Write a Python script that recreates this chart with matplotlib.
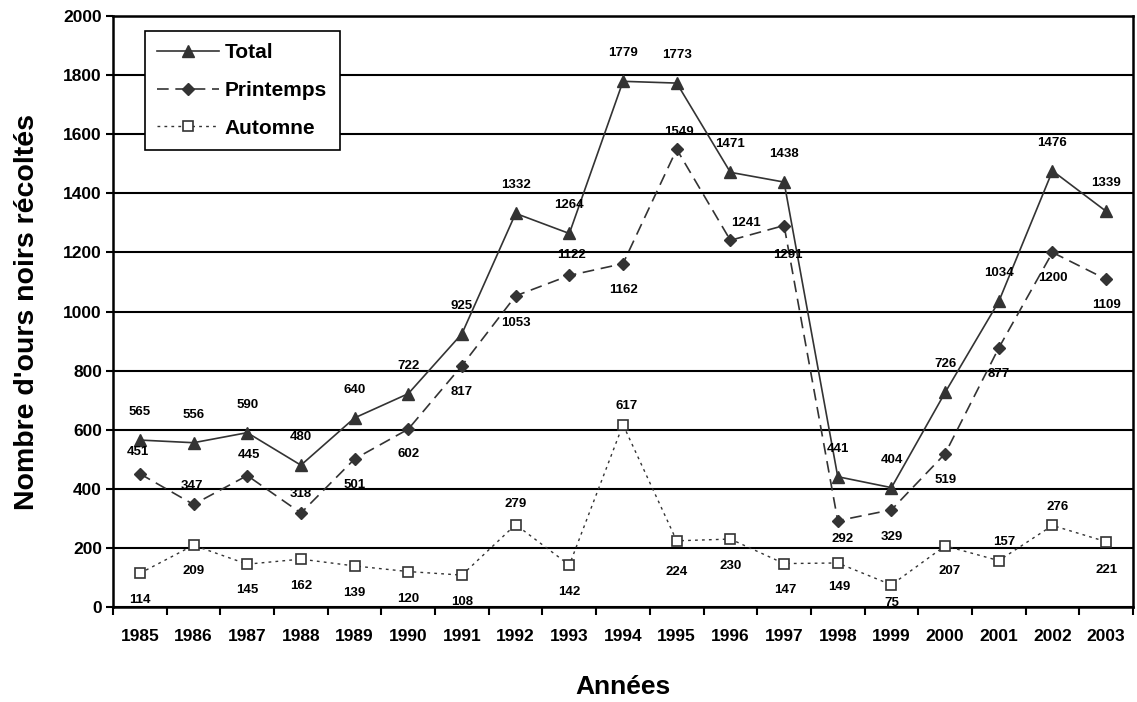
import numpy as np
import matplotlib
matplotlib.use("Agg")
import matplotlib.pyplot as plt

plt.rcParams['font.family'] = ['Liberation Sans', 'DejaVu Sans']
plt.rcParams['font.weight'] = 'bold'

# Données
annees = [str(a) for a in range(1985, 2004)]
total = [565, 556, 590, 480, 640, 722, 925, 1332, 1264, 1779,
         1773, 1471, 1438, 441, 404, 726, 1034, 1476, 1339]
printemps = [451, 347, 445, 318, 501, 602, 817, 1053, 1122, 1162,
             1549, 1241, 1291, 292, 329, 519, 877, 1200, 1109]
automne = [114, 209, 145, 162, 139, 120, 108, 279, 142, 617,
           224, 230, 147, 149, 75, 207, 157, 276, 221]

# Décalages des étiquettes (pixels, y vers le bas)
dy_total = [-28] * 19
dx_total = [0] * 19
dy_print = [-22, -18, -21, -19, 26, 25, 26, 27, -20, 26,
            -17, -17, 29, 18, 27, 26, 26, 26, 26]
dx_print = [-2, -2, 2, 0, 0, 0, 0, 0, 2, 0, 2, 16, 4, 5, 0, 0, 0, 0, 0]
dy_aut = [27, 26, 26, 27, 27, 27, 27, -21, 27, -19,
          31, 27, 26, 24, 18, 25, -19, -18, 28]
dx_aut = [0, 0, 0, 0, 0, 0, 0, 0, 0, 4, 0, 0, 1, 1, 0, 4, 5, 5, 0]

dpi = 100
fig = plt.figure(figsize=(11.37, 7.02), dpi=dpi)
ax = fig.add_axes([0.0994, 0.1353, 0.8971, 0.8419])

x = np.arange(len(annees))
couleur = "#333333"

ax.plot(x, total, color=couleur, linewidth=1.2, marker="^",
        markersize=9, label="Total", zorder=4)
ax.plot(x, printemps, color=couleur, linewidth=1.2, dashes=(7, 4),
        marker="D", markersize=6.5, label="Printemps", zorder=4)
ax.plot(x, automne, color=couleur, linewidth=1.0, dashes=(2, 3),
        marker="s", markersize=7, markerfacecolor="white",
        markeredgecolor=couleur, markeredgewidth=1.2,
        label="Automne", zorder=4)

px = 72.0 / dpi


def etiquettes(valeurs, dxs, dys):
    for i, v in enumerate(valeurs):
        ax.annotate(f"{v}", (x[i], v),
                    xytext=(dxs[i] * px, -dys[i] * px),
                    textcoords="offset points",
                    ha="center", va="center",
                    fontsize=9.5, fontweight="bold", color="black",
                    zorder=5)


etiquettes(total, dx_total, dy_total)
etiquettes(printemps, dx_print, dy_print)
etiquettes(automne, dx_aut, dy_aut)

# Axes
ax.set_xlim(-0.5, len(annees) - 0.5)
ax.set_ylim(0, 2000)
ax.set_yticks(np.arange(0, 2001, 200))
ax.set_xticks(x)
ax.set_xticklabels(annees)
ax.set_xticks(np.arange(-0.5, len(annees), 1), minor=True)
ax.tick_params(axis="x", which="major", length=0, labelsize=12.5, pad=16)
ax.tick_params(axis="x", which="minor", length=6, width=1.5,
               direction="out")
ax.tick_params(axis="y", length=5, width=1.5, labelsize=12.5, pad=3)

ax.yaxis.grid(True, color="black", linewidth=1.5)
ax.set_axisbelow(True)
for cote in ["left", "bottom", "right", "top"]:
    ax.spines[cote].set_linewidth(1.8)
    ax.spines[cote].set_color("black")

ax.set_xlabel("Années", fontsize=19, fontweight="bold", labelpad=22)
ax.set_ylabel("Nombre d'ours noirs récoltés", fontsize=20.5,
              fontweight="bold", labelpad=17)

leg = ax.legend(loc="upper left", bbox_to_anchor=(0.031, 0.975),
                borderaxespad=0, handlelength=2.95, handletextpad=0.3,
                borderpad=0.6,
                frameon=True, fancybox=False, framealpha=1,
                edgecolor="black", labelspacing=0.9,
                prop={"weight": "bold", "size": 15})
leg.get_frame().set_linewidth(1.2)
leg.set_zorder(6)

fig.savefig("out.png", dpi=dpi)
